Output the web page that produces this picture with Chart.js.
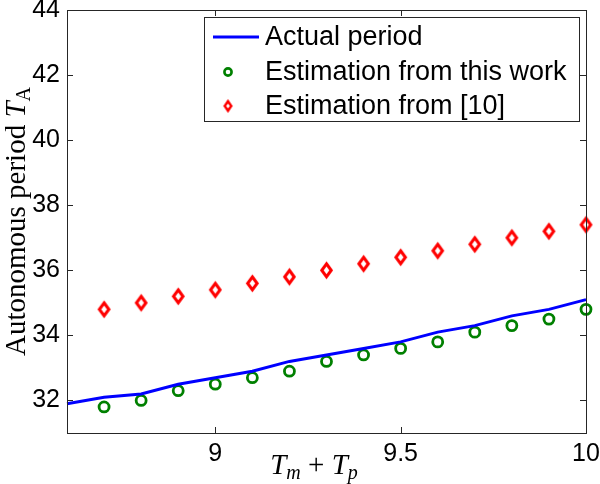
<!DOCTYPE html>
<html>
<head>
<meta charset="utf-8">
<script src="https://cdn.jsdelivr.net/npm/chart.js@4/dist/chart.umd.min.js"></script>
<style>
  html, body { margin: 0; padding: 0; background: #fff; }
  canvas { display: block; }
</style>
</head>
<body>
<canvas id="periodChart" width="600" height="484"></canvas>
<script>
// ---- data ----
const xLine = [8.6, 8.7, 8.8, 8.9, 9.0, 9.1, 9.2, 9.3, 9.4, 9.5, 9.6, 9.7, 9.8, 9.9, 10.0];
const actualPeriod = [31.9, 32.1, 32.2, 32.5, 32.7, 32.9, 33.2, 33.4, 33.6, 33.8, 34.1, 34.3, 34.6, 34.8, 35.1];

const xMarks = [8.7, 8.8, 8.9, 9.0, 9.1, 9.2, 9.3, 9.4, 9.5, 9.6, 9.7, 9.8, 9.9, 10.0];
const estThisWork = [31.8, 32.0, 32.3, 32.5, 32.7, 32.9, 33.2, 33.4, 33.6, 33.8, 34.1, 34.3, 34.5, 34.8];
const estRef10    = [34.8, 35.0, 35.2, 35.4, 35.6, 35.8, 36.0, 36.2, 36.4, 36.6, 36.8, 37.0, 37.2, 37.4];

const xTicks = [9, 9.5, 10];
const yTicks = [32, 34, 36, 38, 40, 42, 44];

const legendLabels = ["Actual period", "Estimation from this work", "Estimation from [10]"];

const BLUE  = "#0000ff";
const GREEN = "#008000";
const RED   = "#ff0000";
const AXIS  = "#262626";

// tall diamond marker (matlab 'd' style)
function makeDiamond(w, h, lw, color) {
  const c = document.createElement("canvas");
  c.width = w + lw * 2 + 2;
  c.height = h + lw * 2 + 2;
  const g = c.getContext("2d");
  const cx = c.width / 2, cy = c.height / 2;
  g.strokeStyle = color;
  g.lineWidth = lw;
  g.lineJoin = "miter";
  g.beginPath();
  g.moveTo(cx, cy - h / 2);
  g.lineTo(cx + w / 2, cy);
  g.lineTo(cx, cy + h / 2);
  g.lineTo(cx - w / 2, cy);
  g.closePath();
  g.stroke();
  return c;
}

const diamondBig   = makeDiamond(9.5, 13, 3, RED);
const diamondSmall = makeDiamond(6.5, 9.5, 2.4, RED);

function toPoints(xs, ys) {
  return xs.map((x, i) => ({ x: x, y: ys[i] }));
}

// frame with inward ticks on all four sides
const frameTicks = {
  id: "frameTicks",
  afterDatasetsDraw(chart) {
    const { ctx, chartArea: a, scales } = chart;
    const len = 6;
    ctx.save();
    ctx.strokeStyle = AXIS;
    ctx.lineWidth = 1;
    ctx.strokeRect(a.left + 0.5, a.top + 0.5, a.right - a.left, a.bottom - a.top);
    ctx.beginPath();
    scales.x.ticks.forEach(t => {
      const px = Math.round(scales.x.getPixelForValue(t.value)) + 0.5;
      ctx.moveTo(px, a.bottom); ctx.lineTo(px, a.bottom - len);
      ctx.moveTo(px, a.top);    ctx.lineTo(px, a.top + len);
    });
    scales.y.ticks.forEach(t => {
      const py = Math.round(scales.y.getPixelForValue(t.value)) + 0.5;
      ctx.moveTo(a.left, py);  ctx.lineTo(a.left + len, py);
      ctx.moveTo(a.right, py); ctx.lineTo(a.right - len, py);
    });
    ctx.stroke();
    ctx.restore();
  }
};

// axis titles with italic/subscript parts
function drawRuns(ctx, runs, x, y) {
  let cx = x;
  runs.forEach(r => {
    ctx.font = r.font;
    ctx.fillText(r.text, cx, y + (r.dy || 0));
    cx += ctx.measureText(r.text).width;
  });
}
function runsWidth(ctx, runs) {
  let w = 0;
  runs.forEach(r => { ctx.font = r.font; w += ctx.measureText(r.text).width; });
  return w;
}

const axisTitles = {
  id: "axisTitles",
  afterDraw(chart) {
    const { ctx, chartArea: a } = chart;
    ctx.save();
    ctx.fillStyle = "#000";
    ctx.textBaseline = "alphabetic";
    ctx.textAlign = "left";

    const serif = "'Liberation Serif', 'DejaVu Serif', serif";
    const yRuns = [
      { text: "Autonomous period ", font: "29px " + serif },
      { text: "T", font: "italic 29px " + serif },
      { text: "A", font: "20px " + serif, dy: 5 }
    ];
    const yw = runsWidth(ctx, yRuns);
    ctx.translate(25, (a.top + a.bottom) / 2);
    ctx.rotate(-Math.PI / 2);
    drawRuns(ctx, yRuns, -yw / 2, 0);
    ctx.setTransform(1, 0, 0, 1, 0, 0);

    const xRuns = [
      { text: "T", font: "italic 29px " + serif },
      { text: "m", font: "italic 20px " + serif, dy: 5 },
      { text: " + ", font: "29px " + serif },
      { text: "T", font: "italic 29px " + serif },
      { text: "p", font: "italic 20px " + serif, dy: 5 }
    ];
    const xw = runsWidth(ctx, xRuns);
    drawRuns(ctx, xRuns, 314 - xw / 2, 474);
    ctx.restore();
  }
};

// legend box in the upper right corner of the axes
const boxLegend = {
  id: "boxLegend",
  afterDraw(chart) {
    const ctx = chart.ctx;
    const bx = 204, by = 17, bw = 375, bh = 104;
    const rowY = [37, 72, 106];
    ctx.save();
    ctx.fillStyle = "#fff";
    ctx.fillRect(bx, by, bw, bh);
    ctx.strokeStyle = AXIS;
    ctx.lineWidth = 1;
    ctx.strokeRect(bx + 0.5, by + 0.5, bw, bh);

    // line sample
    ctx.strokeStyle = BLUE;
    ctx.lineWidth = 3;
    ctx.beginPath();
    ctx.moveTo(213, rowY[0]);
    ctx.lineTo(259, rowY[0]);
    ctx.stroke();

    // circle sample
    ctx.strokeStyle = GREEN;
    ctx.lineWidth = 2.6;
    ctx.beginPath();
    ctx.arc(228, rowY[1], 3.6, 0, Math.PI * 2);
    ctx.stroke();

    // diamond sample
    ctx.drawImage(diamondSmall, 228 - diamondSmall.width / 2, rowY[2] - diamondSmall.height / 2);

    ctx.fillStyle = "#000";
    ctx.font = "27px 'Liberation Sans', Arial, sans-serif";
    ctx.textBaseline = "middle";
    ctx.textAlign = "left";
    legendLabels.forEach((t, i) => ctx.fillText(t, 265, rowY[i] + 1));
    ctx.restore();
  }
};

const tickFont = { family: "'Liberation Sans', Arial, sans-serif", size: 25 };

new Chart(document.getElementById("periodChart"), {
  type: "scatter",
  data: {
    datasets: [
      {
        label: legendLabels[0],
        type: "line",
        data: toPoints(xLine, actualPeriod),
        borderColor: BLUE,
        borderWidth: 3,
        pointRadius: 0,
        tension: 0,
        fill: false,
        clip: false
      },
      {
        label: legendLabels[1],
        data: toPoints(xMarks, estThisWork),
        pointStyle: "circle",
        pointRadius: 5,
        pointBorderWidth: 2.8,
        borderColor: GREEN,
        backgroundColor: "rgba(0,0,0,0)",
        clip: false
      },
      {
        label: legendLabels[2],
        data: toPoints(xMarks, estRef10),
        pointStyle: diamondBig,
        pointRadius: 7,
        borderColor: RED,
        backgroundColor: "rgba(0,0,0,0)",
        clip: false
      }
    ]
  },
  options: {
    responsive: false,
    animation: false,
    devicePixelRatio: 1,
    layout: { padding: { top: 10, right: 14, left: 0, bottom: 0 } },
    plugins: {
      legend: { display: false },
      tooltip: { enabled: false }
    },
    scales: {
      x: {
        type: "linear",
        min: 8.6,
        max: 10,
        grid: { display: false, drawTicks: false },
        border: { display: false },
        afterBuildTicks: s => { s.ticks = xTicks.map(v => ({ value: v })); },
        afterFit: s => { s.height = 51; s.paddingLeft = 0; s.paddingRight = 0; },
        ticks: {
          font: tickFont,
          color: "#000",
          padding: 6,
          maxRotation: 0,
          callback: v => String(v)
        }
      },
      y: {
        type: "linear",
        min: 31,
        max: 44,
        grid: { display: false, drawTicks: false },
        border: { display: false },
        afterBuildTicks: s => { s.ticks = yTicks.map(v => ({ value: v })); },
        afterFit: s => { s.width = 67; s.paddingTop = 0; s.paddingBottom = 0; },
        ticks: {
          font: tickFont,
          color: "#000",
          padding: 7,
          callback: v => String(v)
        }
      }
    }
  },
  plugins: [frameTicks, axisTitles, boxLegend]
});
</script>
</body>
</html>
